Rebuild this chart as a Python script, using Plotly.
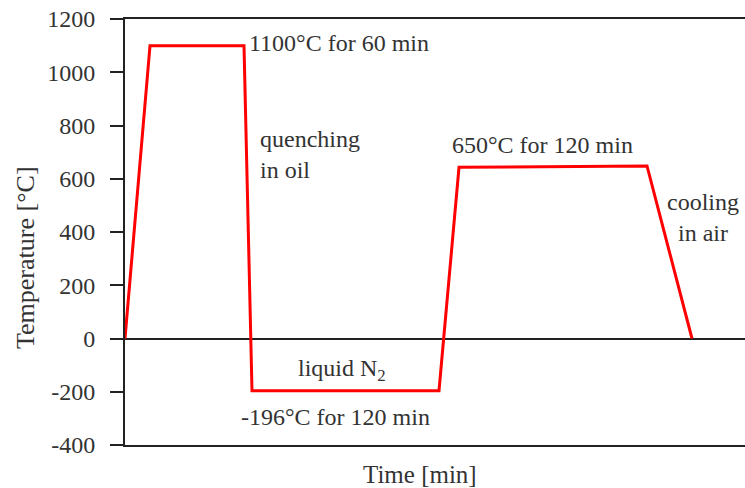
import plotly.graph_objects as go

# Heat-treatment schedule (time in arbitrary minutes scale, temperature in °C)
time_min = [0, 25, 119, 127, 314, 334, 522, 567]
temp_c = [0, 1100, 1100, -196, -196, 643, 648, 0]

y_ticks = [-400, -200, 0, 200, 400, 600, 800, 1000, 1200]
y_tick_text = ["-400", "-200", "0", "200", "400", "600", "800", "1000", "1200"]

labels = [
    ("1100°C for 60 min", 122, 1110, "left"),
    ("quenching<br>in oil", 133, 690, "left"),
    ("650°C for 120 min", 325, 725, "left"),
    ("cooling<br>in air", 578, 455, "center"),
    ("liquid N<sub>2</sub>", 171, -120, "left"),
    ("-196°C for 120 min", 114, -293, "left"),
]

FONT = "Times New Roman, Liberation Serif, serif"
TXT = "#333333"
AX = "#222222"

fig = go.Figure()
fig.add_trace(go.Scatter(
    x=time_min, y=temp_c, mode="lines",
    line=dict(color="#ff0000", width=3),
    showlegend=False, hoverinfo="skip",
))

annotations = []
for text, x, y, align in labels:
    annotations.append(dict(
        text=text, x=x, y=y, xref="x", yref="y",
        xanchor="left" if align == "left" else "center",
        yanchor="middle", align=align, showarrow=False,
        font=dict(family=FONT, size=24, color=TXT),
    ))
annotations.append(dict(
    text="Temperature [°C]", x=25, y=258, xref="paper", yref="paper",
    showarrow=False, textangle=-90,
    font=dict(family=FONT, size=26, color=TXT),
))
annotations.append(dict(
    text="Time [min]", x=420, y=474, xref="paper", yref="paper",
    showarrow=False,
    font=dict(family=FONT, size=25, color=TXT),
))
# convert paper coords given in pixels for the two titles
W, H = 745, 488
L, R, T, B = 125, 0, 19, 43
pw, ph = W - L - R, H - T - B
for a in annotations[-2:]:
    px, py = a["x"], a["y"]
    a["x"] = (px - L) / pw
    a["y"] = (H - B - py) / ph
    a["xanchor"] = "center"
    a["yanchor"] = "middle"

fig.update_layout(
    width=W, height=H,
    margin=dict(l=L, r=R, t=T, b=B),
    plot_bgcolor="white", paper_bgcolor="white",
    font=dict(family=FONT, color=TXT),
    annotations=annotations,
    xaxis=dict(
        range=[0, 620], showgrid=False, zeroline=False,
        showline=True, linecolor=AX, linewidth=2, mirror=True,
        showticklabels=False, ticks="",
    ),
    yaxis=dict(
        range=[-400, 1200], tickvals=y_ticks, ticktext=y_tick_text,
        showgrid=False,
        zeroline=True, zerolinecolor=AX, zerolinewidth=1.5,
        showline=True, linecolor=AX, linewidth=2,
        ticks="outside", ticklen=13, tickwidth=2, tickcolor=AX,
        tickfont=dict(family=FONT, size=24, color=TXT),
        ticklabelstandoff=10,
    ),
)

fig.write_html("out.html")
